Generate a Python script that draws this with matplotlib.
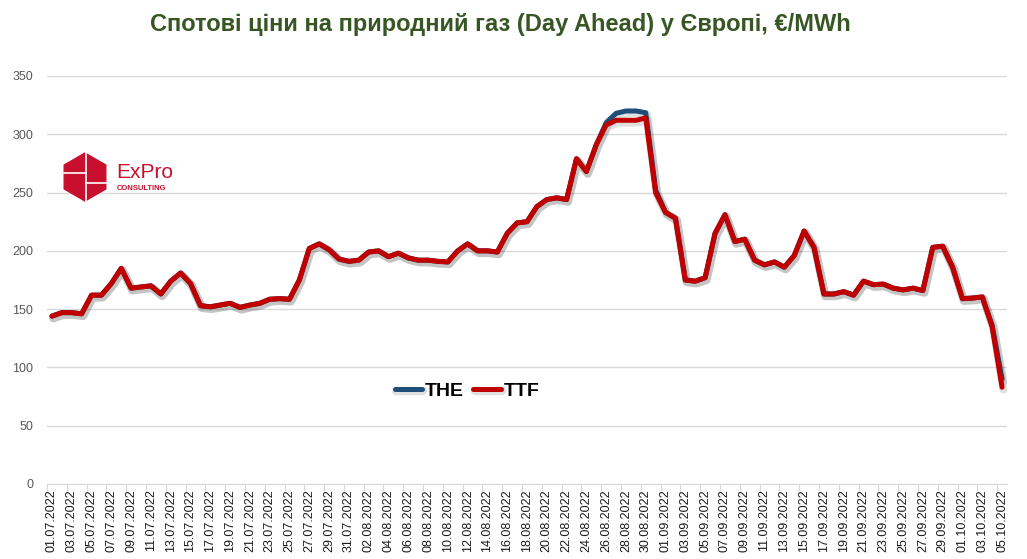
import matplotlib
matplotlib.use("Agg")
import matplotlib.pyplot as plt
import matplotlib.patheffects as pe
from matplotlib.patches import RegularPolygon
import pandas as pd

# spot prices, EUR/MWh, one value per day 01.07.2022 .. 05.10.2022
dates = pd.date_range("2022-07-01", "2022-10-05", freq="D")
date_labels = [d.strftime("%d.%m.%Y") for d in dates]

ttf = [144, 147, 147, 146, 162, 162, 172, 185, 168, 169,
       170, 163, 174, 181, 172, 153, 152, 153.5, 155, 151.5,
       153.5, 155, 158.5, 159, 158.5, 175, 202, 206, 201, 193,
       191, 192, 199, 200, 195, 198, 194, 192, 192, 191,
       190.5, 200, 206, 200, 200, 199, 215, 224, 225, 238,
       244, 245.5, 244, 279, 268, 291, 308, 312, 312, 312,
       314, 250, 233, 228, 175, 174, 177, 215, 231, 208,
       210, 192, 188, 190.5, 186, 196, 217, 203, 163, 163,
       165, 162, 174, 171, 171.5, 168, 166.5, 168, 166, 203,
       204, 186, 159, 159.5, 160.5, 135, 83]

the = [144, 147, 147, 146, 162, 162, 172, 185, 168, 169,
       170, 163, 174, 181, 172, 153, 152, 153.5, 155, 151.5,
       153.5, 155, 158.5, 159, 158.5, 175, 202, 206, 201, 193,
       191, 192, 199, 200, 195, 198, 194, 192, 192, 191,
       190.5, 200, 206, 200, 200, 199, 215, 224, 225, 238,
       244, 245.5, 244, 279, 268, 291, 310, 318, 320, 320,
       318.5, 252, 233, 228, 175, 174, 177, 215, 231, 208,
       210, 192, 188, 190.5, 186, 196, 217, 203, 163, 163,
       165, 162, 174, 171, 171.5, 168, 166.5, 168, 166, 203,
       204, 186, 159, 159.5, 160.5, 136, 90]

title = "Спотові ціни на природний газ (Day Ahead) у Європі, €/MWh"

fig = plt.figure(figsize=(10.27, 5.59), dpi=100)
ax = fig.add_axes([47 / 1027, 75 / 559, 960 / 1027, 408 / 559])

x = range(len(dates))
shadow = [pe.SimpleLineShadow(offset=(1, -1.5), shadow_color="k", alpha=0.12, linewidth=6), pe.Normal()]
ax.plot(x, the, color="#1F4E79", lw=3.6, label="THE", solid_joinstyle="round",
        solid_capstyle="round", path_effects=shadow, zorder=3)
ax.plot(x, ttf, color="#C00000", lw=3.6, label="TTF", solid_joinstyle="round",
        solid_capstyle="round", path_effects=shadow, zorder=4)

ax.set_ylim(0, 350)
ax.set_xlim(-0.5, len(dates) - 0.5)
ax.set_yticks(range(0, 351, 50))
ax.grid(axis="y", color="#D9D9D9", lw=1)
ax.set_axisbelow(True)
for s in ["top", "right", "left"]:
    ax.spines[s].set_visible(False)
ax.spines["bottom"].set_color("#D9D9D9")

ax.tick_params(axis="y", length=0, pad=10, labelsize=9, labelcolor="#595959")
for t in ax.get_yticklabels():
    t.set_fontfamily("Liberation Sans")

# labels every second day, tick marks between categories
ax.set_xticks([i - 0.5 for i in range(0, len(dates) + 1, 2)])
ax.set_xticklabels([])
ax.tick_params(axis="x", which="major", length=5, color="#D9D9D9")
ax.set_xticks(list(range(0, len(dates), 2)), minor=True)
ax.set_xticklabels(date_labels[::2], minor=True, rotation=90, fontsize=9,
                   color="#1a1a1a", family="Liberation Sans")
ax.tick_params(axis="x", which="minor", length=0, pad=4)

leg = ax.legend(loc="center", bbox_to_anchor=(0.4375, 0.228), ncol=2, frameon=False,
                handlelength=1.4, handletextpad=0.15, columnspacing=0.5,
                prop={"family": "Liberation Sans", "weight": "bold", "size": 14})

fig.text(500 / 1027, 1 - 25 / 559, title, ha="center", va="center", fontsize=17,
         fontweight="bold", color="#375623", family="Liberation Sans")

# logo
lax = fig.add_axes([60 / 1027, 1 - 203 / 559, 150 / 1027, 52 / 559])
lax.set_xlim(0, 150)
lax.set_ylim(0, 52)
lax.set_aspect("equal")
lax.axis("off")
lax.add_patch(RegularPolygon((25, 26), 6, radius=24, orientation=0, color="#C8102E"))
lax.plot([26, 26], [2, 50], color="white", lw=1.2)
lax.plot([4, 26], [30, 30], color="white", lw=1.2)
lax.plot([26, 46], [20, 20], color="white", lw=1.2)
lax.text(56, 30, "ExPro", color="#C8102E", fontsize=15, va="center", ha="left",
         family="Liberation Sans")
lax.text(57, 15, "CONSULTING", color="#C8102E", fontsize=5.5, va="center", ha="left",
         fontweight="bold", family="Liberation Sans")

fig.savefig("out.png", dpi=100)
